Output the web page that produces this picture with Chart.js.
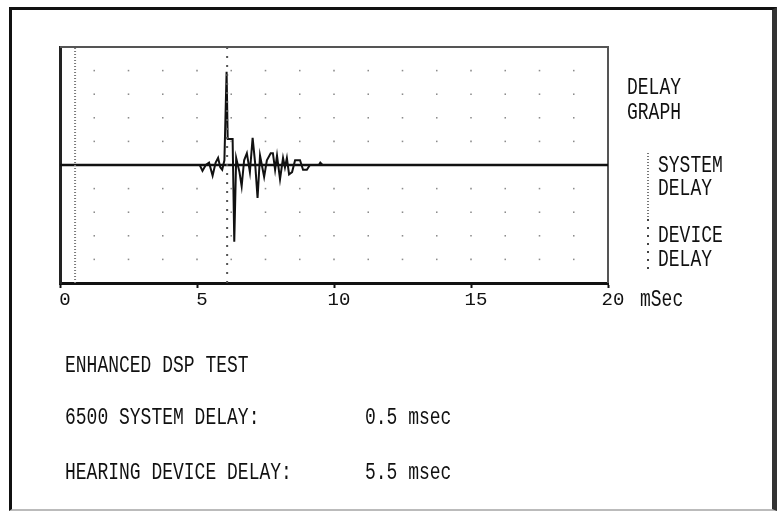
<!DOCTYPE html>
<html>
<head>
<meta charset="utf-8">
<script src="https://cdn.jsdelivr.net/npm/chart.js@4.4.1/dist/chart.umd.min.js"></script>
<style>
  html, body { margin: 0; padding: 0; background: #fff; }
  #wrap { position: relative; width: 778px; height: 513px; overflow: hidden; }
  #delay-chart { position: absolute; left: 0; top: 0; }
  .frame {
    position: absolute; left: 9px; top: 7px; width: 768px; height: 504px; box-sizing: border-box;
    border-left: 3px solid #111; border-top: 3px solid #111;
    border-right: 5px solid #333; border-bottom: 2px solid #bbb;
  }
  .t {
    position: absolute; font-family: 'Liberation Mono', 'DejaVu Sans Mono', monospace;
    font-size: 18px; line-height: 18px; color: #111; white-space: pre;
    transform: scaleY(1.3); transform-origin: 0 0;
  }
  .mark { position: absolute; width: 2px; }
  .mark.sys { background: repeating-linear-gradient(to bottom, #777 0 1px, transparent 1px 3px); }
  .mark.dev { background: repeating-linear-gradient(to bottom, #444 0 2px, transparent 2px 8px); }
</style>
</head>
<body>
<div id="wrap">
  <canvas id="delay-chart" width="778" height="513"></canvas>
  <div class="frame"></div>

  <div class="t" style="left:627px; top:76px;">DELAY</div>
  <div class="t" style="left:627px; top:101px;">GRAPH</div>
  <div class="mark sys" style="left:647px; top:153px; height:64px;"></div>
  <div class="t" style="left:658px; top:154px;">SYSTEM</div>
  <div class="t" style="left:658px; top:177px;">DELAY</div>
  <div class="mark dev" style="left:647px; top:219px; height:56px;"></div>
  <div class="t" style="left:658px; top:224px;">DEVICE</div>
  <div class="t" style="left:658px; top:248px;">DELAY</div>

  <div class="t" style="left:640px; top:288px;">mSec</div>

  <div class="t" style="left:65px; top:354px;">ENHANCED DSP TEST</div>
  <div class="t" style="left:65px; top:406px;">6500 SYSTEM DELAY:</div>
  <div class="t" style="left:365px; top:406px;">0.5 msec</div>
  <div class="t" style="left:65px; top:461px;">HEARING DEVICE DELAY:</div>
  <div class="t" style="left:365px; top:461px;">5.5 msec</div>
</div>
<script>
// impulse response (time in mSec, amplitude in grid units)
const timeMs = [0, 4.95, 5.1, 5.2, 5.32, 5.44, 5.57, 5.68, 5.77, 5.85, 5.92, 6.0, 6.08, 6.12, 6.3, 6.36,
  6.43, 6.55, 6.63, 6.72, 6.82, 6.93, 7.03, 7.12, 7.21, 7.3, 7.45, 7.55, 7.69, 7.77, 7.85, 7.92,
  8.03, 8.14, 8.21, 8.28, 8.36, 8.47, 8.58, 8.76, 8.87, 9.01, 9.12, 9.45, 9.5, 9.58, 20];
const amplitude = [0, 0, 0, -0.25, 0, 0.1, -0.45, 0.1, 0.3, -0.1, -0.2, 0.2, 3.95, 1.1, 1.1, -3.25,
  0.3, -0.3, -0.9, 0.2, 0.5, -0.3, 1.15, 0.1, -1.4, 0.4, -0.5, 0.2, 0.5, 0.5, -0.2, 0.4,
  -0.6, 0.3, -0.1, 0.3, -0.4, -0.3, 0.2, 0.2, -0.2, -0.2, 0, 0, 0.1, 0, 0];

const xLabels = [0, 5, 10, 15, 20];
const gridX = [1.25, 2.5, 3.75, 5, 6.25, 7.5, 8.75, 10, 11.25, 12.5, 13.75, 15, 16.25, 17.5, 18.75];
const gridY = [-4, -3, -2, -1, 1, 2, 3, 4];

const systemDelayAt = 0.55;
const deviceDelayAt = 6.1;

const gridDots = [];
gridX.forEach((x) => gridY.forEach((y) => gridDots.push({ x: x, y: y })));

const framePlugin = {
  id: 'frame',
  beforeDatasetsDraw(chart) {
    const { ctx, chartArea: a } = chart;
    ctx.save();
    ctx.strokeStyle = '#555';
    ctx.lineWidth = 2;
    ctx.beginPath();
    ctx.moveTo(a.left, a.top);
    ctx.lineTo(a.right, a.top);
    ctx.lineTo(a.right, a.bottom);
    ctx.stroke();
    ctx.restore();
  },
};

new Chart(document.getElementById('delay-chart'), {
  type: 'line',
  data: {
    datasets: [
      {
        data: gridDots,
        showLine: false,
        pointStyle: 'rect',
        pointRadius: 1.1,
        pointBackgroundColor: '#8c8c8c',
        pointBorderWidth: 0,
      },
      {
        data: [{ x: systemDelayAt, y: -5 }, { x: systemDelayAt, y: 5 }],
        borderColor: '#7a7a7a',
        borderWidth: 2,
        borderDash: [1, 2],
        pointRadius: 0,
      },
      {
        data: [{ x: deviceDelayAt, y: -5 }, { x: deviceDelayAt, y: 5 }],
        borderColor: '#555',
        borderWidth: 2,
        borderDash: [2, 7],
        pointRadius: 0,
      },
      {
        data: [{ x: 0, y: 0 }, { x: 20, y: 0 }],
        borderColor: '#111',
        borderWidth: 2.5,
        pointRadius: 0,
      },
      {
        data: timeMs.map((t, i) => ({ x: t, y: amplitude[i] })),
        borderColor: '#111',
        borderWidth: 2,
        pointRadius: 0,
        tension: 0,
      },
    ],
  },
  options: {
    responsive: false,
    animation: false,
    devicePixelRatio: 1,
    layout: { padding: { top: 47, right: 170, left: 0, bottom: 0 } },
    plugins: { legend: { display: false }, tooltip: { enabled: false } },
    scales: {
      x: {
        type: 'linear',
        min: 0,
        max: 20,
        afterFit: (s) => { s.height = 230; },
        afterBuildTicks: (s) => { s.ticks = xLabels.map((v) => ({ value: v })); },
        ticks: {
          autoSkip: false,
          maxRotation: 0,
          padding: 1,
          labelOffset: 5,
          color: '#111',
          font: { family: "'Liberation Mono', monospace", size: 19 },
        },
        grid: { drawOnChartArea: false, tickLength: 5, color: '#111', tickWidth: 2 },
        border: { color: '#111', width: 3 },
      },
      y: {
        min: -5,
        max: 5,
        afterFit: (s) => { s.width = 60; },
        ticks: { display: false },
        grid: { display: false },
        border: { color: '#222', width: 3 },
      },
    },
  },
  plugins: [framePlugin],
});
</script>
</body>
</html>
